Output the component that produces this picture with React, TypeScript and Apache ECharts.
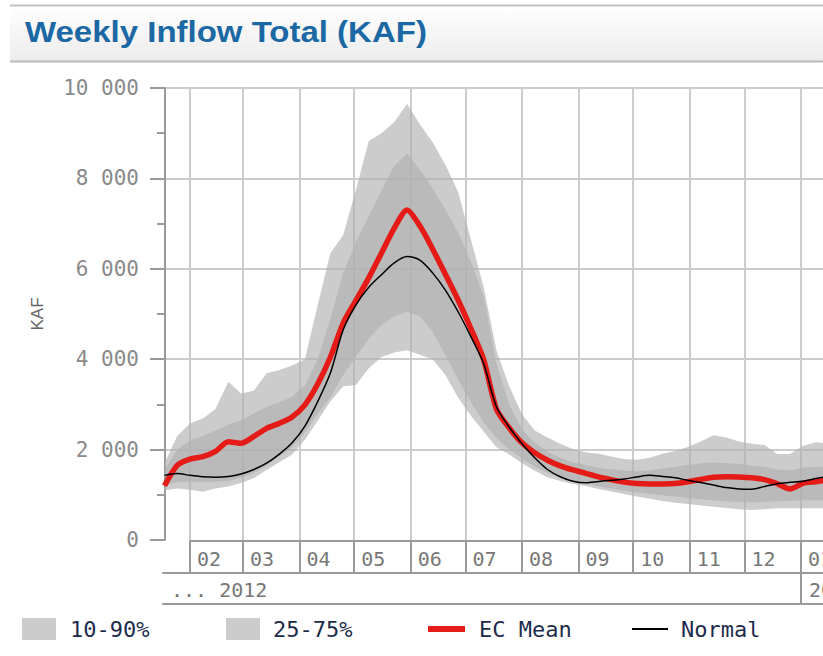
import React, { useEffect, useRef } from "react";
import * as echarts from "echarts";

// ---- data ----
const weekDates = [
  "2012-01-18", "2012-01-25", "2012-02-01", "2012-02-08", "2012-02-15", "2012-02-22", "2012-02-29",
  "2012-03-07", "2012-03-14", "2012-03-21", "2012-03-28", "2012-04-04", "2012-04-11", "2012-04-18",
  "2012-04-25", "2012-05-02", "2012-05-09", "2012-05-16", "2012-05-23", "2012-05-30", "2012-06-06",
  "2012-06-13", "2012-06-20", "2012-06-27", "2012-07-04", "2012-07-11", "2012-07-18", "2012-07-25",
  "2012-08-01", "2012-08-08", "2012-08-15", "2012-08-22", "2012-08-29", "2012-09-05", "2012-09-12",
  "2012-09-19", "2012-09-26", "2012-10-03", "2012-10-10", "2012-10-17", "2012-10-24", "2012-10-31",
  "2012-11-07", "2012-11-14", "2012-11-21", "2012-11-28", "2012-12-05", "2012-12-12", "2012-12-19",
  "2012-12-26", "2013-01-02", "2013-01-09", "2013-01-16",
];

const ecMean = [
  1200, 1650, 1790, 1843, 1960, 2175, 2140, 2290, 2470, 2580, 2720, 2990,
  3450, 4050, 4800, 5300, 5800, 6350, 6900, 7300, 6950, 6440, 5880, 5310, 4680, 3990,
  2900, 2480, 2150, 1930, 1765, 1640, 1550, 1475, 1395, 1335, 1280, 1250, 1240,
  1240, 1250, 1290, 1340, 1387, 1400, 1395, 1375, 1335, 1245, 1130, 1255, 1290, 1330,
];

const normal = [
  1430, 1470, 1430, 1400, 1390, 1405, 1460, 1560, 1700, 1900, 2150, 2520,
  3060, 3700, 4650, 5200, 5590, 5870, 6130, 6270, 6190, 5910, 5530, 5050, 4500, 3900,
  2950, 2500, 2130, 1820, 1560, 1400, 1300, 1265, 1295, 1322, 1350, 1395, 1430,
  1405, 1375, 1320, 1270, 1215, 1160, 1130, 1125, 1185, 1245, 1275, 1300, 1360, 1410,
];

const p90 = [
  1700, 2300, 2580, 2690, 2900, 3500, 3240, 3300, 3690, 3760, 3860, 4000,
  5200, 6350, 6750, 7750, 8830, 9000, 9250, 9650, 9200, 8800, 8300, 7700, 6650, 5600,
  4200, 3400, 2780, 2420, 2270, 2130, 2010, 1940, 1910, 1850, 1790, 1775, 1820,
  1910, 1970, 2060, 2180, 2320, 2270, 2180, 2130, 2100, 1900, 1900, 2080, 2160, 2140,
];

const p75 = [
  1550, 2000, 2200, 2300, 2420, 2550, 2650, 2800, 2950, 3050, 3170, 3420,
  4000, 4900, 5900, 6600, 7170, 7740, 8280, 8550, 8200, 7780, 7320, 6800, 6160, 5400,
  3900, 3000, 2450, 2150, 1950, 1820, 1720, 1660, 1600, 1560, 1530, 1520, 1540,
  1580, 1620, 1660, 1700, 1720, 1700, 1680, 1650, 1620, 1560, 1540, 1600, 1620, 1620,
];

const p25 = [
  1200, 1280, 1290, 1290, 1290, 1300, 1380, 1480, 1650, 1850, 2050, 2380,
  2800, 3150, 3650, 4050, 4450, 4750, 4950, 5050, 4950, 4600, 4100, 3550, 3050, 2600,
  2250, 2000, 1800, 1620, 1480, 1380, 1310, 1250, 1190, 1140, 1090, 1050, 1020,
  990, 960, 930, 900, 880, 860, 840, 830, 840, 860, 870, 880, 880, 880,
];

const p10 = [
  1100, 1140, 1110, 1070, 1140, 1185, 1260, 1370, 1550, 1720, 1890, 2220,
  2640, 3070, 3400, 3430, 3800, 4050, 4150, 4200, 4100, 4000, 3650, 3150, 2750, 2400,
  2050, 1890, 1700, 1530, 1390, 1305, 1240, 1195, 1130, 1075, 1020, 960, 915,
  865, 825, 795, 765, 737, 710, 680, 665, 680, 700, 700, 700, 700, 700,
];

const monthStarts = [
  "2012-02-01", "2012-03-01", "2012-04-01", "2012-05-01", "2012-06-01", "2012-07-01",
  "2012-08-01", "2012-09-01", "2012-10-01", "2012-11-01", "2012-12-01", "2013-01-01",
];
const monthLabels = ["02", "03", "04", "05", "06", "07", "08", "09", "10", "11", "12", "01"];
const yearStarts = ["2013-01-01"];
const yearLabels = ["... 2012", "2013"];

const legendNames = ["10-90%", "25-75%", "EC Mean", "Normal"];
const chartTitle = "Weekly Inflow Total (KAF)";
const yName = "KAF";
const yMax = 10000;
const yStep = 2000;

// ---- layout ----
const W = 823;
const H = 656;
const PLOT_LEFT = 165;
const PLOT_TOP = 88;
const PLOT_BOTTOM = 540;
const FEB_X = 190;
const JAN_X = 801;
const ROW_LEFT = 163;

const BAND = "rgba(176,176,176,0.65)";
const AXIS_GRAY = "#9a9a9a";
const GRID_GRAY = "#cccccc";
const MONO = "'DejaVu Sans Mono', monospace";

const dayOf = (s: string) => {
  const [y, m, d] = s.split("-").map(Number);
  return (Date.UTC(y, m - 1, d) - Date.UTC(2012, 0, 1)) / 86400000;
};

const fmtThousands = (v: number) => String(v).replace(/\B(?=(\d{3})+(?!\d))/g, " ");

export default function App() {
  const ref = useRef<HTMLDivElement>(null);

  useEffect(() => {
    const el = ref.current;
    if (!el) return;
    const chart = echarts.init(el, null, { renderer: "svg" });

    const monthDays = monthStarts.map(dayOf);
    const feb = monthDays[0];
    const jan = monthDays[monthDays.length - 1];
    const ppd = (JAN_X - FEB_X) / (jan - feb);
    const dayAt = (px: number) => feb + (px - FEB_X) / ppd;
    const xMax = dayAt(W);
    const mainMin = dayAt(PLOT_LEFT);
    const rowMin = dayAt(ROW_LEFT);
    const yearDays = yearStarts.map(dayOf);

    const xs = weekDates.map(dayOf);
    const pair = (arr: number[]) => arr.map((v, i) => [xs[i], v]);

    const axisLineStyle = { color: AXIS_GRAY, width: 2 };
    const hiddenY = (gi: number) => ({ gridIndex: gi, type: "value", show: false, min: 0, max: 1 });

    const bandSeries = (name: string, lo: number[], hi: number[]) => ({
      type: "custom",
      name,
      xAxisIndex: 0,
      yAxisIndex: 0,
      silent: true,
      z: 1,
      data: [[xs[0], lo[0]]],
      renderItem: (params: any, api: any) => {
        const upper = hi.map((v, i) => api.coord([xs[i], v]));
        const lower = lo.map((v, i) => api.coord([xs[i], v])).reverse();
        const cs = params.coordSys;
        return {
          type: "group",
          clipPath: { type: "rect", shape: { x: cs.x, y: cs.y, width: cs.width, height: cs.height } },
          children: [
            {
              type: "polygon",
              shape: { points: upper.concat(lower) },
              style: { fill: BAND, stroke: "none" },
            },
          ],
        };
      },
    });

    const legendX = [22, 226, 428, 632];
    const legendTextX = [70, 273, 479, 681];
    const LEG_Y = 629;

    const option: any = {
      animation: false,
      backgroundColor: "#ffffff",
      grid: [
        { left: PLOT_LEFT, top: PLOT_TOP, right: 0, height: PLOT_BOTTOM - PLOT_TOP, outerBoundsMode: "none", containLabel: false },
        { left: FEB_X, top: PLOT_BOTTOM, right: 0, height: 1, outerBoundsMode: "none", containLabel: false },
        { left: ROW_LEFT, top: 572, right: 0, height: 1, outerBoundsMode: "none", containLabel: false },
        { left: ROW_LEFT, top: 603, right: 0, height: 1, outerBoundsMode: "none", containLabel: false },
      ],
      xAxis: [
        {
          gridIndex: 0,
          type: "value",
          min: mainMin,
          max: xMax,
          axisLine: { show: false },
          axisLabel: { show: false },
          axisTick: {
            show: true,
            inside: true,
            customValues: monthDays,
            length: PLOT_BOTTOM - PLOT_TOP,
            lineStyle: { color: GRID_GRAY, width: 2 },
          },
          splitLine: { show: false },
        },
        {
          gridIndex: 1,
          type: "value",
          position: "bottom",
          min: feb,
          max: xMax,
          axisLine: { show: true, onZero: false, lineStyle: axisLineStyle },
          axisTick: { show: true, customValues: monthDays, length: 32, lineStyle: axisLineStyle },
          axisLabel: {
            show: true,
            customValues: monthDays,
            formatter: (v: number) => {
              const k = monthDays.findIndex((d) => Math.abs(d - v) < 0.5);
              return k >= 0 ? monthLabels[k] : "";
            },
            align: "left",
            padding: [0, 0, 0, 7],
            margin: 8,
            fontFamily: MONO,
            fontSize: 20,
            color: "#777777",
          },
          splitLine: { show: false },
        },
        {
          gridIndex: 2,
          type: "value",
          position: "bottom",
          min: rowMin,
          max: xMax,
          axisLine: { show: true, onZero: false, lineStyle: axisLineStyle },
          axisTick: { show: true, customValues: yearDays, length: 31, lineStyle: axisLineStyle },
          axisLabel: {
            show: true,
            customValues: [rowMin + 0.01, ...yearDays],
            formatter: (v: number) => (v >= yearDays[0] - 0.5 ? yearLabels[1] : yearLabels[0]),
            align: "left",
            padding: [0, 0, 0, 8],
            margin: 7,
            fontFamily: MONO,
            fontSize: 20,
            color: "#777777",
          },
          splitLine: { show: false },
        },
        {
          gridIndex: 3,
          type: "value",
          position: "bottom",
          min: rowMin,
          max: xMax,
          axisLine: { show: true, onZero: false, lineStyle: axisLineStyle },
          axisTick: { show: false },
          axisLabel: { show: false },
          splitLine: { show: false },
        },
      ],
      yAxis: [
        {
          gridIndex: 0,
          type: "value",
          min: 0,
          max: yMax,
          interval: yStep,
          name: yName,
          nameLocation: "middle",
          nameGap: 119,
          nameRotate: 90,
          nameTextStyle: { fontSize: 17, color: "#666666", fontFamily: "'Liberation Sans', Arial, sans-serif" },
          axisLine: { show: true, lineStyle: axisLineStyle },
          axisTick: { show: true, length: 15, lineStyle: axisLineStyle },
          minorTick: { show: true, splitNumber: 2, length: 8, lineStyle: axisLineStyle },
          axisLabel: {
            margin: 26,
            fontFamily: MONO,
            fontSize: 21,
            color: "#8a8a8a",
            formatter: (v: number) => fmtThousands(v),
          },
          splitLine: { show: true, showMinLine: false, lineStyle: { color: GRID_GRAY, width: 2 } },
          minorSplitLine: { show: false },
        },
        hiddenY(1),
        hiddenY(2),
        hiddenY(3),
      ],
      series: [
        bandSeries(legendNames[0], p10, p90),
        bandSeries(legendNames[1], p25, p75),
        {
          type: "line",
          name: legendNames[2],
          data: pair(ecMean),
          symbol: "none",
          smooth: 0.25,
          silent: true,
          lineStyle: { color: "#e41b17", width: 5.5 },
          z: 3,
        },
        {
          type: "line",
          name: legendNames[3],
          data: pair(normal),
          symbol: "none",
          smooth: 0.3,
          silent: true,
          lineStyle: { color: "#000000", width: 1.5 },
          z: 4,
        },
      ],
      graphic: [
        {
          type: "rect",
          shape: { x: 10, y: 6, width: W - 10, height: 55 },
          style: {
            fill: new echarts.graphic.LinearGradient(0, 0, 0, 1, [
              { offset: 0, color: "#ffffff" },
              { offset: 1, color: "#ececec" },
            ]),
          },
          silent: true,
          z: -10,
        },
        {
          type: "line",
          shape: { x1: 10, y1: 5.5, x2: W, y2: 5.5 },
          style: { stroke: "#c2c2c2", lineWidth: 2 },
          silent: true,
        },
        {
          type: "line",
          shape: { x1: 10, y1: 61.5, x2: W, y2: 61.5 },
          style: { stroke: "#b8b8b8", lineWidth: 2 },
          silent: true,
        },
        {
          type: "text",
          x: 25,
          y: 32,
          scaleX: 1.1,
          style: {
            text: chartTitle,
            fontSize: 30,
            fontWeight: "bold",
            fontFamily: "'Liberation Sans', Arial, sans-serif",
            fill: "#1b68a4",
            align: "left",
            verticalAlign: "middle",
            textAlign: "left",
            textVerticalAlign: "middle",
          },
          silent: true,
        },
        // legend
        { type: "rect", shape: { x: legendX[0], y: 618, width: 34, height: 22 }, style: { fill: BAND }, silent: true },
        { type: "rect", shape: { x: legendX[1], y: 618, width: 34, height: 22 }, style: { fill: BAND }, silent: true },
        { type: "rect", shape: { x: legendX[2], y: LEG_Y - 3, width: 37, height: 6 }, style: { fill: "#e41b17" }, silent: true },
        { type: "line", shape: { x1: legendX[3], y1: LEG_Y, x2: legendX[3] + 36, y2: LEG_Y }, style: { stroke: "#000", lineWidth: 2 }, silent: true },
        ...legendNames.map((n, i) => ({
          type: "text",
          x: legendTextX[i],
          y: LEG_Y,
          style: {
            text: n,
            fontSize: 22,
            fontFamily: MONO,
            fill: "#1d2b4b",
            align: "left",
            verticalAlign: "middle",
            textAlign: "left",
            textVerticalAlign: "middle",
          },
          silent: true,
        })),
      ],
    };

    chart.setOption(option);
    return () => chart.dispose();
  }, []);

  return (
    <div
      ref={ref}
      style={{ position: "fixed", left: 0, top: 0, width: W, height: H, background: "#ffffff" }}
    />
  );
}
